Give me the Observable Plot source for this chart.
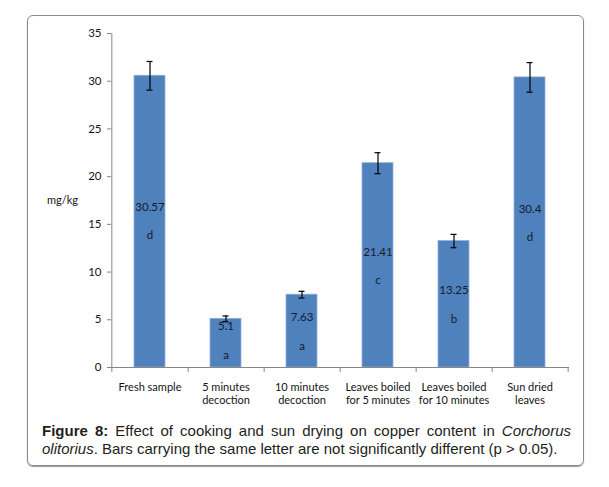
<!DOCTYPE html>
<html>
<head>
<meta charset="utf-8">
<script src="https://cdn.jsdelivr.net/npm/d3@7"></script>
<script src="https://cdn.jsdelivr.net/npm/@observablehq/plot@0.6"></script>
<style>
  html, body { margin: 0; padding: 0; background: #fff; }
  #wrap { position: relative; width: 609px; height: 487px; }
  #box { position: absolute; left: 27px; top: 15px; width: 555px; height: 449px;
         border: 1px solid #8a8a8a; border-radius: 6px; box-shadow: 0 1px 1px #9a9a9a; }
  #chart { position: absolute; left: 0; top: 0; }
  #caption { position: absolute; left: 42px; top: 422px; width: 529px;
             font-family: "Liberation Sans", Arial, sans-serif; font-size: 15px; line-height: 18.3px; color: #231f20; }
  #caption .l1 { text-align: justify; text-align-last: justify; }
</style>
</head>
<body>
<div id="wrap">
  <div id="box"></div>
  <div id="chart"></div>
  <div id="caption">
    <div class="l1"><b>Figure 8:</b> Effect of cooking and sun drying on copper content in <i>Corchorus</i></div>
    <div><i>olitorius</i>. Bars carrying the same letter are not significantly different (p &gt; 0.05).</div>
  </div>
</div>
<script>
const categories = ["Fresh sample", "5 minutes decoction", "10 minutes decoction", "Leaves boiled for 5 minutes", "Leaves boiled for 10 minutes", "Sun dried leaves"];
const tickLabels = ["Fresh sample", "5 minutes\ndecoction", "10 minutes\ndecoction", "Leaves boiled\nfor 5 minutes", "Leaves boiled\nfor 10 minutes", "Sun dried\nleaves"];
const values = [30.57, 5.1, 7.63, 21.41, 13.25, 30.4];
const errors = [1.5, 0.3, 0.35, 1.1, 0.7, 1.55];
const valueLabels = ["30.57", "5.1", "7.63", "21.41", "13.25", "30.4"];
const letters = ["d", "a", "a", "c", "b", "d"];
const valueLabelAt = [16.8, 4.35, 5.25, 12.1, 8.1, 16.6];
const letterAt = [13.8, 1.25, 2.25, 9.1, 5.0, 13.6];
const yTicks = [0, 5, 10, 15, 20, 25, 30, 35];

const data = categories.map((c, i) => ({
  cat: c, value: values[i], err: errors[i], label: valueLabels[i],
  letter: letters[i], labelAt: valueLabelAt[i], letterAt: letterAt[i]
}));

const W = 609, H = 415, mL = 111, mR = 40, mT = 33, mB = 48;
const step = (W - mL - mR) / categories.length;
const font = "Lato, 'Open Sans', sans-serif";
const axisColor = "#868686";
const textColor = "#141414";

const chart = Plot.plot({
  width: W, height: H,
  marginLeft: mL, marginRight: mR, marginTop: mT, marginBottom: mB,
  style: { fontFamily: font, fontSize: "11px", color: textColor, background: "transparent" },
  x: { domain: categories, paddingInner: 0.59, paddingOuter: 0.295, label: null },
  y: { domain: [0, 35], label: null },
  marks: [
    Plot.axisY({ ticks: yTicks, tickSize: 4, tickPadding: 6, stroke: axisColor, fill: textColor, fontSize: 11.5, label: null }),
    Plot.axisX({ tickSize: 0, tickPadding: 14, fill: textColor, fontSize: 11, lineHeight: 1.2,
                 tickFormat: (d) => tickLabels[categories.indexOf(d)], label: null }),
    Plot.barY(data, { x: "cat", y: "value", fill: "#4f81bd", stroke: "#93b0d8", strokeWidth: 0.8 }),
    Plot.ruleX(data, { x: "cat", y1: (d) => d.value - d.err, y2: (d) => d.value + d.err, stroke: "#000", strokeWidth: 1.2 }),
    Plot.tickY(data, { x: "cat", y: (d) => d.value + d.err, stroke: "#000", strokeWidth: 1.2, insetLeft: 12.5, insetRight: 12.5 }),
    Plot.tickY(data, { x: "cat", y: (d) => d.value - d.err, stroke: "#000", strokeWidth: 1.2, insetLeft: 12.5, insetRight: 12.5 }),
    Plot.text(data, { x: "cat", y: "labelAt", text: "label", fill: "#131c2a", fontSize: 11.5 }),
    Plot.text(data, { x: "cat", y: "letterAt", text: "letter", fill: "#131c2a", fontSize: 11.5 }),
    // axis lines
    Plot.ruleY([0], { stroke: axisColor }),
    Plot.ruleX([categories[0]], { y1: 0, y2: 35, dx: -step / 2, stroke: axisColor }),
    // category boundary ticks below x axis
    Plot.ruleX(categories, { x: (d) => d, y1: 0, y2: 0, dx: step / 2, insetBottom: -5, stroke: axisColor }),
    Plot.ruleX([categories[0]], { y1: 0, y2: 0, dx: -step / 2, insetBottom: -5, stroke: axisColor }),
    Plot.text(["mg/kg"], { frameAnchor: "left", dx: -49, textAnchor: "middle", fill: textColor, fontSize: 11 })
  ]
});
document.getElementById("chart").appendChild(chart);
</script>
</body>
</html>
